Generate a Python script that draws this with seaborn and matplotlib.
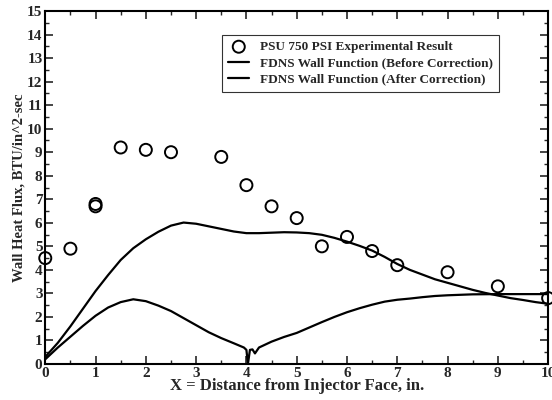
import matplotlib
matplotlib.use("Agg")
import matplotlib.pyplot as plt
from matplotlib.ticker import MultipleLocator
import seaborn as sns
import pandas as pd

# --- экспериментальные точки ---
exp_x = [0, 0.5, 1, 1, 1.5, 2, 2.5, 3.5, 4, 4.5, 5, 5.5, 6, 6.5, 7, 8, 9, 10]
exp_y = [4.5, 4.9, 6.7, 6.8, 9.2, 9.1, 9.0, 8.8, 7.6, 6.7, 6.2, 5.0, 5.4, 4.8, 4.2, 3.9, 3.3, 2.8]

# --- FDNS до коррекции ---
before_x = [0, 0.25, 0.5, 0.75, 1, 1.25, 1.5, 1.75, 2, 2.25, 2.5, 2.75, 3, 3.25, 3.5, 3.75,
            4, 4.25, 4.5, 4.75, 5, 5.25, 5.5, 5.75, 6, 6.25, 6.5, 6.75, 7, 7.25, 7.5, 7.75,
            8, 8.25, 8.5, 8.75, 9, 9.25, 9.5, 9.75, 10]
before_y = [0.3, 0.9, 1.6, 2.35, 3.1, 3.78, 4.42, 4.92, 5.3, 5.62, 5.88, 6.01, 5.96, 5.85,
            5.74, 5.63, 5.56, 5.56, 5.58, 5.6, 5.59, 5.56, 5.49, 5.36, 5.2, 5.02, 4.82,
            4.55, 4.25, 4.0, 3.8, 3.6, 3.45, 3.3, 3.15, 3.02, 2.91, 2.8, 2.72, 2.63, 2.56]

# --- FDNS после коррекции ---
after_x = [0, 0.25, 0.5, 0.75, 1, 1.25, 1.5, 1.75, 2, 2.25, 2.5, 2.75, 3, 3.25, 3.5, 3.75,
           3.95, 4.0, 4.03, 4.07, 4.12, 4.17, 4.25, 4.5, 4.75, 5, 5.25, 5.5, 5.75, 6, 6.25,
           6.5, 6.75, 7, 7.25, 7.5, 7.75, 8, 8.25, 8.5, 9, 9.5, 10]
after_y = [0.2, 0.7, 1.16, 1.62, 2.05, 2.4, 2.63, 2.75, 2.67, 2.48, 2.25, 1.95, 1.65, 1.35,
           1.1, 0.88, 0.7, 0.6, 0.0, 0.6, 0.62, 0.45, 0.7, 0.95, 1.15, 1.32, 1.55, 1.78,
           2.0, 2.2, 2.37, 2.52, 2.65, 2.73, 2.78, 2.84, 2.89, 2.92, 2.94, 2.96, 2.97,
           2.97, 2.97]

legend_labels = ["PSU 750 PSI Experimental Result",
                 "FDNS Wall Function (Before Correction)",
                 "FDNS Wall Function (After Correction)"]


def main():
    sns.set_theme(style="ticks")
    plt.rcParams["font.family"] = ["Liberation Serif", "DejaVu Serif"]
    plt.rcParams["font.weight"] = "bold"

    fig = plt.figure(figsize=(5.52, 4.0), dpi=100)
    ax = fig.add_axes([0.082, 0.09, 0.911, 0.8825])

    df_exp = pd.DataFrame({"x": exp_x, "y": exp_y})
    df_before = pd.DataFrame({"x": before_x, "y": before_y})
    df_after = pd.DataFrame({"x": after_x, "y": after_y})

    sns.lineplot(data=df_before, x="x", y="y", ax=ax, color="black", lw=1.6,
                 sort=False, estimator=None, label=legend_labels[1])
    sns.lineplot(data=df_after, x="x", y="y", ax=ax, color="black", lw=1.6,
                 sort=False, estimator=None, label=legend_labels[2])
    sns.scatterplot(data=df_exp, x="x", y="y", ax=ax, marker="o", s=75,
                    facecolor="none", edgecolor="black", linewidth=1.4,
                    label=legend_labels[0], clip_on=False, zorder=5)

    ax.set_xlim(0, 10)
    ax.set_ylim(0, 15)
    ax.xaxis.set_major_locator(MultipleLocator(1))
    ax.xaxis.set_minor_locator(MultipleLocator(0.5))
    ax.yaxis.set_major_locator(MultipleLocator(1))
    ax.yaxis.set_minor_locator(MultipleLocator(0.5))
    ax.tick_params(which="both", direction="in", top=True, right=True,
                   labelsize=11, pad=2)
    ax.tick_params(which="major", length=6, width=1.2)
    ax.tick_params(which="minor", length=3, width=1)
    for sp in ax.spines.values():
        sp.set_linewidth(1.5)
        sp.set_color("black")
    for lab in ax.get_xticklabels() + ax.get_yticklabels():
        lab.set_fontweight("bold")

    ax.set_xlabel("X = Distance from Injector Face, in.", fontsize=12,
                  fontweight="bold", labelpad=-1)
    ax.set_ylabel("Wall Heat Flux, BTU/in^2-sec", fontsize=10.5,
                  fontweight="bold", labelpad=1)

    handles, labels = ax.get_legend_handles_labels()
    order = [labels.index(l) for l in legend_labels]
    leg = ax.legend([handles[i] for i in order], [labels[i] for i in order],
                    loc="upper left", bbox_to_anchor=(0.352, 0.932),
                    borderaxespad=0, prop={"weight": "bold", "size": 9.5},
                    frameon=True, fancybox=False, edgecolor="black",
                    handlelength=1.6, borderpad=0.45, labelspacing=0.3)
    leg.get_frame().set_linewidth(0.8)

    fig.savefig("out.png", dpi=100)


if __name__ == "__main__":
    main()
